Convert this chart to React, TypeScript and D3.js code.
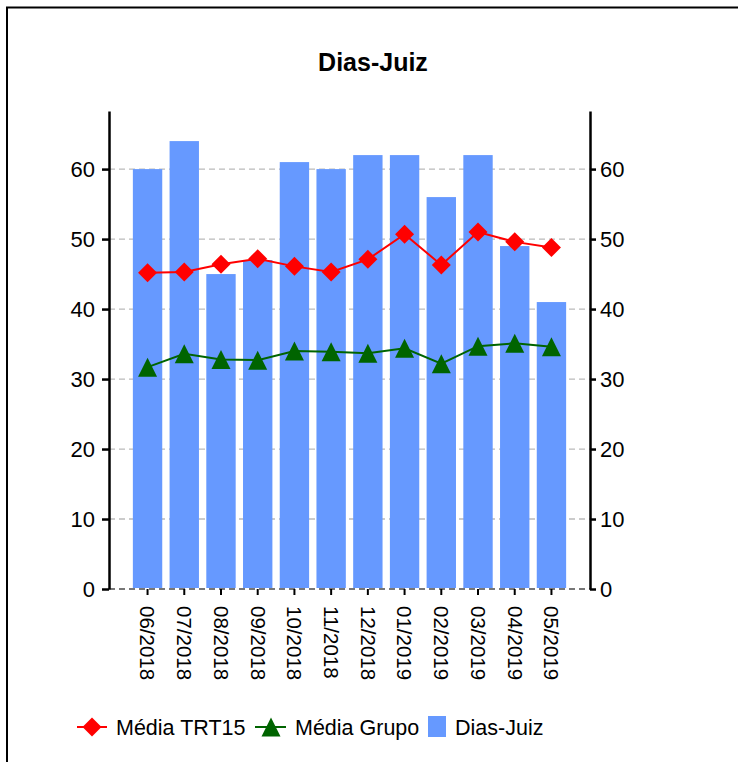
import * as d3 from "d3";
import React, { useEffect, useRef } from "react";

const months = [
  "06/2018", "07/2018", "08/2018", "09/2018", "10/2018", "11/2018",
  "12/2018", "01/2019", "02/2019", "03/2019", "04/2019", "05/2019",
];
const diasJuiz = [60, 64, 45, 47, 61, 60, 62, 62, 56, 62, 49, 41];
const mediaTRT15 = [45.2, 45.3, 46.4, 47.2, 46.1, 45.3, 47.1, 50.7, 46.3, 51.0, 49.6, 48.8];
const mediaGrupo = [31.7, 33.6, 32.8, 32.7, 34.0, 33.9, 33.7, 34.4, 32.2, 34.7, 35.1, 34.6];
const yTicks = [0, 10, 20, 30, 40, 50, 60];

const FONT = "'Liberation Sans', Arial, sans-serif";

const App: React.FC = () => {
  const ref = useRef<SVGSVGElement>(null);

  useEffect(() => {
    if (!ref.current) return;
    const svg = d3.select(ref.current);
    svg.selectAll("*").remove();

    const width = 738,
      height = 762;
    const left = 109,
      right = 590,
      top = 111,
      bottom = 589;

    // outer frame (runs past the right/bottom edge)
    svg
      .append("rect")
      .attr("x", 7)
      .attr("y", 7.5)
      .attr("width", width + 20)
      .attr("height", height + 20)
      .attr("fill", "#fff")
      .attr("stroke", "#000")
      .attr("stroke-width", 2);

    svg
      .append("text")
      .attr("x", 373)
      .attr("y", 71)
      .attr("text-anchor", "middle")
      .style("font-family", FONT)
      .style("font-size", "25px")
      .style("font-weight", "bold")
      .text("Dias-Juiz");

    const x = d3
      .scaleBand<string>()
      .domain(months)
      .range([left, right])
      .paddingInner(0.2)
      .paddingOuter(0.65);
    const cx = (m: string) => (x(m) ?? 0) + x.bandwidth() / 2;

    const y = d3.scaleLinear().domain([0, 68.3]).range([bottom, top]);

    // grid
    svg
      .append("g")
      .selectAll("line")
      .data(yTicks)
      .join("line")
      .attr("x1", left)
      .attr("x2", right)
      .attr("y1", (d) => y(d))
      .attr("y2", (d) => y(d))
      .attr("stroke", (d) => (d === 0 ? "#777" : "#bbb"))
      .attr("stroke-width", (d) => (d === 0 ? 2 : 1.3))
      .attr("stroke-dasharray", "6,4");

    // bars
    svg
      .append("g")
      .selectAll("rect")
      .data(diasJuiz)
      .join("rect")
      .attr("x", (d, i) => x(months[i]) ?? 0)
      .attr("width", x.bandwidth())
      .attr("y", (d) => y(d))
      .attr("height", (d) => bottom - 1 - y(d))
      .attr("fill", "#6699ff");

    // axes
    const axL = svg
      .append("g")
      .attr("transform", `translate(${left},0)`)
      .call(d3.axisLeft(y).tickValues(yTicks).tickSize(7).tickPadding(7).tickSizeOuter(0));
    const axR = svg
      .append("g")
      .attr("transform", `translate(${right},0)`)
      .call(d3.axisRight(y).tickValues(yTicks).tickSize(6).tickPadding(4).tickSizeOuter(0));
    [axL, axR].forEach((ax) => {
      ax.select(".domain").attr("stroke-width", 2.5);
      ax.selectAll(".tick line").attr("stroke-width", 2.5);
      ax.selectAll(".tick text")
        .style("font-family", FONT)
        .style("font-size", "22px")
        .attr("fill", "#000");
    });

    const axB = svg
      .append("g")
      .attr("transform", `translate(0,${bottom})`)
      .call(d3.axisBottom(x).tickSize(6).tickSizeOuter(0));
    axB.select(".domain").remove();
    axB.selectAll(".tick line").attr("stroke-width", 2);
    axB
      .selectAll<SVGTextElement, string>(".tick text")
      .attr("transform", "rotate(90)")
      .attr("x", 17)
      .attr("y", 0)
      .attr("dy", "0.35em")
      .attr("text-anchor", "start")
      .style("font-family", FONT)
      .style("font-size", "20.5px")
      .attr("fill", "#000");

    // lines
    const line = d3
      .line<number>()
      .x((d, i) => cx(months[i]))
      .y((d) => y(d));

    const diamond = "M0,-9.5L9.5,0L0,9.5L-9.5,0Z";
    const triangle = "M0,-9.5L9.5,9.5L-9.5,9.5Z";

    svg
      .append("path")
      .datum(mediaTRT15)
      .attr("d", line)
      .attr("fill", "none")
      .attr("stroke", "#ff0000")
      .attr("stroke-width", 2);
    svg
      .append("g")
      .selectAll("path")
      .data(mediaTRT15)
      .join("path")
      .attr("transform", (d, i) => `translate(${cx(months[i])},${y(d)})`)
      .attr("d", diamond)
      .attr("fill", "#ff0000");

    svg
      .append("path")
      .datum(mediaGrupo)
      .attr("d", line)
      .attr("fill", "none")
      .attr("stroke", "#006400")
      .attr("stroke-width", 2);
    svg
      .append("g")
      .selectAll("path")
      .data(mediaGrupo)
      .join("path")
      .attr("transform", (d, i) => `translate(${cx(months[i])},${y(d)})`)
      .attr("d", triangle)
      .attr("fill", "#006400");

    // legend
    const ly = 727;
    const lg = svg.append("g").style("font-family", FONT).style("font-size", "21.5px");
    lg.append("line").attr("x1", 77).attr("x2", 107).attr("y1", ly).attr("y2", ly)
      .attr("stroke", "#ff0000").attr("stroke-width", 2);
    lg.append("path").attr("transform", `translate(92,${ly})`).attr("d", diamond).attr("fill", "#ff0000");
    lg.append("text").attr("x", 116).attr("y", ly + 8).text("Média TRT15");

    lg.append("line").attr("x1", 255).attr("x2", 286).attr("y1", ly).attr("y2", ly)
      .attr("stroke", "#006400").attr("stroke-width", 2);
    lg.append("path").attr("transform", `translate(271,${ly})`).attr("d", triangle).attr("fill", "#006400");
    lg.append("text").attr("x", 295).attr("y", ly + 8).text("Média Grupo");

    lg.append("rect").attr("x", 428).attr("y", 716).attr("width", 18).attr("height", 21).attr("fill", "#6699ff");
    lg.append("text").attr("x", 455).attr("y", ly + 8).text("Dias-Juiz");
  }, []);

  return (
    <div style={{ position: "absolute", left: 0, top: 0 }}>
      <svg ref={ref} width={738} height={762} style={{ display: "block" }} />
    </div>
  );
};

export default App;
